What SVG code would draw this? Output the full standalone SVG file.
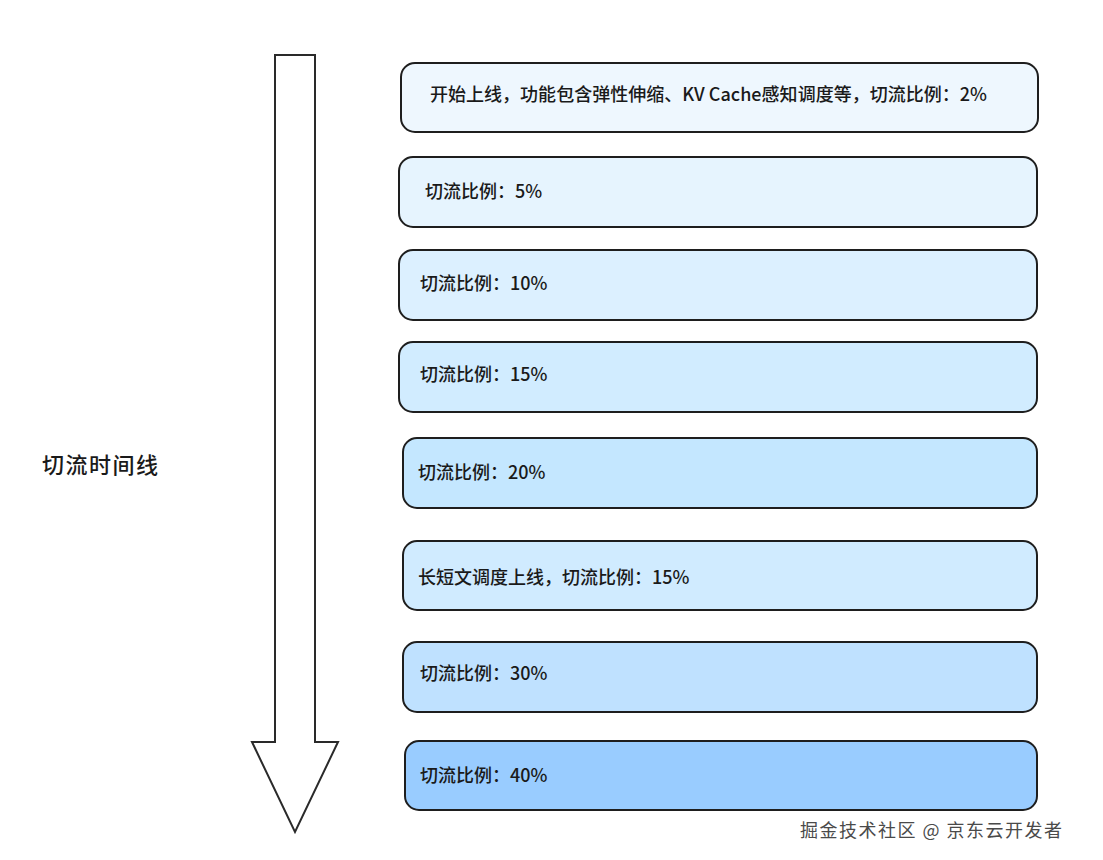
<svg xmlns="http://www.w3.org/2000/svg" width="1103" height="860" viewBox="0 0 1103 860">
<style>
.box{stroke:#1e1e1e;stroke-width:2;}
.t{font-family:"Noto Sans CJK SC","Noto Sans",sans-serif;font-size:18px;font-weight:500;fill:#1a1a1a;}
.lbl{font-family:"Noto Sans CJK SC","Noto Sans",sans-serif;font-size:22px;font-weight:500;fill:#1a1a1a;}
.wm{font-family:"Noto Sans CJK SC","Noto Sans",sans-serif;font-size:18px;fill:#4a4a4a;}
</style>
<rect width="1103" height="860" fill="#ffffff"/>
<g id="connectors">
<polygon points="275,55 315,55 315,742 338,742 295,832 252,742 275,742" fill="#ffffff" stroke="#2a2a2a" stroke-width="2" stroke-linejoin="miter"/>
</g>
<g id="timeline-label"><text class="lbl" x="42" y="473" textLength="116">切流时间线</text></g>
<g id="n1"><rect class="box" x="401" y="63" width="637" height="69" rx="14" fill="#eef7fe"/><text class="t" x="430" y="101" textLength="557">开始上线，功能包含弹性伸缩、KV Cache感知调度等，切流比例：2%</text></g>
<g id="n2"><rect class="box" x="399" y="157" width="638" height="70" rx="14" fill="#e6f4fe"/><text class="t" x="425" y="198">切流比例：5%</text></g>
<g id="n3"><rect class="box" x="399" y="250" width="638" height="70" rx="14" fill="#dcf0ff"/><text class="t" x="420" y="290">切流比例：10%</text></g>
<g id="n4"><rect class="box" x="399" y="342" width="638" height="70" rx="14" fill="#d1ecff"/><text class="t" x="420" y="381">切流比例：15%</text></g>
<g id="n5"><rect class="box" x="403" y="438" width="634" height="70" rx="14" fill="#c4e7ff"/><text class="t" x="418" y="479">切流比例：20%</text></g>
<g id="n6"><rect class="box" x="403" y="541" width="634" height="69" rx="14" fill="#d0ebff"/><text class="t" x="418" y="584">长短文调度上线，切流比例：15%</text></g>
<g id="n7"><rect class="box" x="403" y="642" width="634" height="70" rx="14" fill="#bfe1ff"/><text class="t" x="420" y="680">切流比例：30%</text></g>
<g id="n8"><rect class="box" x="405" y="741" width="632" height="69" rx="14" fill="#99ccff"/><text class="t" x="420" y="782">切流比例：40%</text></g>
<g id="watermark"><text class="wm" x="800" y="837" textLength="262">掘金技术社区 @ 京东云开发者</text></g>
</svg>
